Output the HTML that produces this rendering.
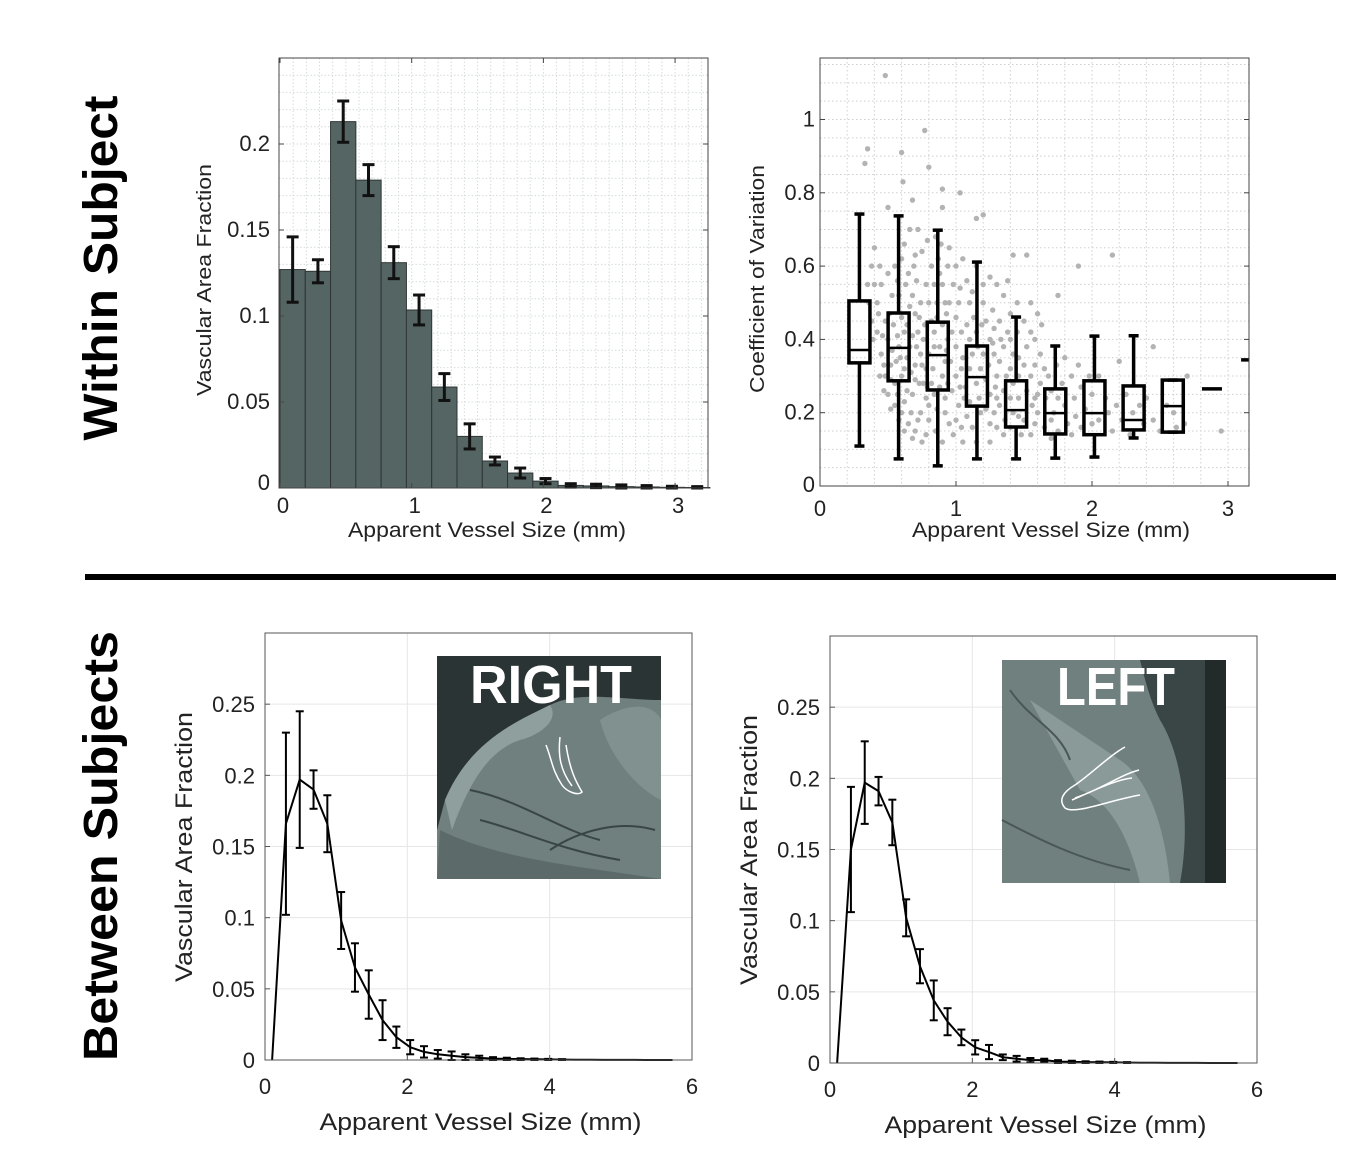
<!DOCTYPE html>
<html><head><meta charset="utf-8">
<style>
html,body{margin:0;padding:0;background:#fff;}
svg{display:block;font-family:"Liberation Sans",Arial,sans-serif;}
</style></head>
<body>
<svg id="fig" width="1366" height="1152" viewBox="0 0 1366 1152" xmlns="http://www.w3.org/2000/svg">
  <text transform="translate(117,268) rotate(-90)" text-anchor="middle" font-size="48" font-weight="bold" textLength="345" lengthAdjust="spacingAndGlyphs">Within Subject</text>
  <text transform="translate(117,846) rotate(-90)" text-anchor="middle" font-size="48" font-weight="bold" textLength="430" lengthAdjust="spacingAndGlyphs">Between Subjects</text>
  <rect x="85" y="574" width="1251" height="6" fill="#000"/>
  <g id="p1"></g>
  <g id="p2"></g>
  <g id="p3"></g>
  <g id="p4"></g>
</svg>
<script>
// ---------- Data ----------
const histCenters = [0.096,0.288,0.48,0.672,0.864,1.056,1.248,1.44,1.632,1.824,2.016,2.208,2.4,2.592,2.784,2.976,3.168];
const histValues = [0.127,0.126,0.213,0.179,0.131,0.1035,0.0587,0.030,0.0157,0.0087,0.004,0.0015,0.0012,0.0008,0.0006,0.0004,0.0003];
const histErrors = [0.019,0.0067,0.012,0.009,0.0093,0.0087,0.0078,0.0073,0.0023,0.0029,0.0015,0.001,0.001,0.001,0.0008,0.0006,0.0005];
const histXTicks = [0,1,2,3];
const histYTicks = [0,0.05,0.1,0.15,0.2];
const histYTickLabels = ['0','0.05','0.1','0.15','0.2'];

const boxCenters = [0.29,0.578,0.866,1.154,1.442,1.73,2.018,2.306,2.594,2.882,3.17];
const boxLow  = [0.109,0.074,0.055,0.074,0.074,0.076,0.079,0.131,0.147,0.265,0.344];
const boxQ1   = [0.336,0.287,0.262,0.218,0.161,0.142,0.140,0.153,0.147,0.265,0.344];
const boxMed  = [0.371,0.377,0.357,0.297,0.207,0.199,0.199,0.180,0.218,0.265,0.344];
const boxQ3   = [0.505,0.472,0.447,0.382,0.287,0.265,0.287,0.273,0.289,0.265,0.344];
const boxHigh = [0.742,0.737,0.698,0.611,0.461,0.382,0.409,0.410,0.289,0.265,0.344];
const cvYTicks = [0,0.2,0.4,0.6,0.8,1];
const cvYTickLabels = ['0','0.2','0.4','0.6','0.8','1'];
const cvXTicks = [0,1,2,3];
const scatterPts = [[0.48,1.12],[0.35,0.92],[0.33,0.88],[0.6,0.91],[0.61,0.83],[0.77,0.97],[0.8,0.87],[1.03,0.8],[0.9,0.81],[1.15,0.73],[1.2,0.74],[2.15,0.63],[1.9,0.6],[1.75,0.52],[2.95,0.15],[1.42,0.63],[1.52,0.63],[0.5,0.76],[0.68,0.78],[0.9,0.76],
[0.4,0.65],[0.45,0.55],[0.42,0.5],[0.48,0.45],[0.5,0.4],[0.45,0.36],[0.52,0.33],[0.48,0.3],[0.55,0.28],[0.5,0.25],[0.55,0.22],[0.6,0.2],[0.65,0.17],[0.7,0.15],[0.75,0.12],[0.55,0.6],[0.62,0.66],[0.65,0.58],[0.68,0.52],[0.7,0.47],[0.72,0.42],[0.66,0.38],[0.7,0.33],[0.73,0.28],[0.68,0.25],[0.78,0.24],[0.74,0.2],[0.8,0.18],[0.85,0.15],[0.82,0.6],[0.78,0.55],[0.75,0.64],[0.72,0.7],[0.8,0.5],[0.82,0.45],[0.76,0.4],[0.8,0.36],[0.78,0.32],[0.82,0.28],[0.8,0.22],[0.85,0.68],[0.95,0.65],[1.0,0.6],[0.98,0.55],[0.95,0.5],[1.0,0.46],[0.97,0.42],[1.0,0.38],[0.96,0.34],[1.0,0.3],[0.97,0.26],[1.02,0.22],[1.0,0.18],[0.98,0.14],[1.05,0.12],[1.08,0.56],[1.1,0.5],[1.08,0.44],[1.1,0.4],[1.05,0.35],[1.1,0.32],[1.07,0.27],[1.1,0.23],[1.08,0.19],[1.12,0.16],[1.2,0.5],[1.22,0.45],[1.25,0.4],[1.2,0.36],[1.24,0.33],[1.22,0.29],[1.25,0.25],[1.22,0.21],[1.25,0.17],[1.3,0.55],[1.35,0.52],[1.32,0.45],[1.38,0.42],[1.35,0.38],[1.32,0.34],[1.37,0.3],[1.35,0.26],[1.32,0.22],[1.36,0.18],[1.35,0.14],[1.45,0.5],[1.5,0.45],[1.55,0.42],[1.52,0.38],[1.5,0.33],[1.55,0.3],[1.52,0.26],[1.56,0.22],[1.5,0.18],[1.55,0.14],[1.62,0.36],[1.65,0.32],[1.62,0.28],[1.66,0.24],[1.6,0.2],[1.65,0.16],[1.7,0.13],[1.8,0.35],[1.78,0.28],[1.8,0.22],[1.82,0.17],[1.85,0.14],[1.9,0.33],[1.92,0.27],[1.95,0.21],[1.92,0.16],[2.05,0.3],[2.1,0.24],[2.05,0.18],[2.15,0.15],[2.2,0.34],[2.25,0.25],[2.3,0.2],[2.28,0.14],[2.4,0.24],[2.45,0.18],[2.5,0.15],[2.55,0.22],[2.62,0.16],[2.7,0.3],[2.45,0.38],[0.6,0.46],[0.58,0.38],[0.62,0.32],[0.88,0.58],[0.9,0.44],[0.88,0.38],[0.9,0.3],[0.92,0.24],[1.15,0.6],[1.15,0.42],[1.15,0.28],[1.42,0.36],[1.42,0.28],[1.42,0.2],[0.35,0.55],[0.38,0.45],[0.58,0.52],[0.62,0.42],[0.74,0.36],[0.86,0.5],[0.92,0.34],[1.04,0.42],[1.18,0.32],[1.28,0.36],[1.28,0.2],[1.46,0.24],[1.6,0.25],[1.72,0.2],[0.64,0.26],[0.56,0.34],
[0.4,0.55],[0.43,0.47],[0.46,0.41],[0.47,0.33],[0.52,0.29],[0.57,0.25],[0.62,0.23],[0.67,0.2],[0.72,0.18],[0.44,0.6],[0.5,0.58],[0.53,0.52],[0.51,0.47],[0.54,0.44],[0.57,0.41],[0.53,0.37],[0.59,0.35],[0.6,0.3],[0.57,0.56],[0.6,0.62],[0.63,0.55],[0.66,0.49],[0.64,0.44],[0.68,0.41],[0.64,0.35],[0.67,0.31],[0.7,0.29],[0.71,0.38],[0.69,0.6],[0.71,0.56],[0.74,0.5],[0.73,0.46],[0.77,0.44],[0.75,0.33],[0.76,0.28],[0.79,0.27],[0.84,0.25],[0.83,0.32],[0.84,0.38],[0.84,0.42],[0.86,0.46],[0.84,0.55],[0.87,0.62],[0.9,0.55],[0.92,0.5],[0.93,0.47],[0.94,0.4],[0.93,0.37],[0.94,0.28],[0.88,0.27],[0.86,0.21],[0.92,0.2],[0.95,0.17],[1.02,0.5],[1.03,0.54],[1.04,0.32],[1.03,0.27],[1.06,0.24],[1.04,0.16],[1.12,0.36],[1.13,0.46],[1.12,0.53],[1.16,0.38],[1.17,0.24],[1.18,0.2],[1.19,0.44],[1.2,0.55],[1.27,0.48],[1.28,0.43],[1.27,0.39],[1.3,0.3],[1.29,0.27],[1.3,0.24],[1.3,0.16],[1.33,0.4],[1.4,0.47],[1.4,0.4],[1.4,0.32],[1.4,0.24],[1.4,0.16],[1.45,0.42],[1.46,0.35],[1.46,0.3],[1.46,0.19],[1.48,0.14],[1.58,0.4],[1.58,0.33],[1.58,0.24],[1.58,0.17],[1.63,0.44],[1.68,0.3],[1.7,0.26],[1.7,0.18],[1.74,0.33],[1.75,0.24],[1.75,0.15],[1.85,0.3],[1.87,0.24],[1.88,0.19],[1.98,0.3],[2.0,0.25],[2.0,0.17],[2.12,0.2],[2.18,0.22],[2.22,0.18],[2.35,0.22],[2.38,0.17],[2.6,0.2],[2.68,0.17],[0.38,0.6],[0.36,0.5],[0.39,0.4],[0.42,0.42],[0.44,0.3],[0.47,0.26],[0.52,0.21],[0.58,0.18],[0.62,0.15],[0.68,0.13],[0.78,0.14],[0.9,0.12],[1.15,0.12],[1.25,0.12],[0.66,0.7],[0.7,0.63],[0.79,0.67],[0.89,0.66],[0.94,0.6],[1.05,0.62],[1.25,0.57],[1.38,0.56],[1.55,0.5],[1.6,0.47]];

const lineX = [0.1,0.294,0.488,0.682,0.876,1.07,1.264,1.458,1.652,1.846,2.04,2.234,2.428,2.622,2.816,3.01,3.204,3.398,3.592,3.786,3.98,4.174,4.368,4.562,4.756,4.95,5.144,5.338,5.532,5.726];
const rightHemValues = [0,0.166,0.197,0.19,0.166,0.098,0.065,0.046,0.028,0.016,0.009,0.0057,0.004,0.003,0.002,0.0015,0.001,0.0008,0.0006,0.0005,0.0004,0.0003,0.0002,0.0002,0.0001,0.0001,0.0001,0,0,0];
const rightHemErrors = [0,0.064,0.048,0.0135,0.02,0.02,0.017,0.017,0.014,0.0075,0.005,0.004,0.003,0.003,0.002,0.0015,0.001,0.0008,0.0006,0.0005,0.0004,0.0003,0,0,0,0,0,0,0,0];
const leftHemValues = [0,0.15,0.197,0.191,0.169,0.102,0.068,0.044,0.029,0.018,0.011,0.0077,0.004,0.003,0.002,0.002,0.001,0.0008,0.0006,0.0005,0.0004,0.0003,0.0002,0.0002,0.0001,0.0001,0.0001,0,0,0];
const leftHemErrors = [0,0.044,0.029,0.01,0.016,0.013,0.012,0.014,0.0095,0.0055,0.005,0.005,0.002,0.002,0.0015,0.001,0.001,0.0008,0.0006,0.0005,0.0004,0.0003,0,0,0,0,0,0,0,0];
const lineXTicks = [0,2,4,6];
const lineYTicks = [0,0.05,0.1,0.15,0.2,0.25];
const lineYTickLabels = ['0','0.05','0.1','0.15','0.2','0.25'];

// ---------- Helpers ----------
const NS='http://www.w3.org/2000/svg';
function mk(parent, tag, attrs){ const e=document.createElementNS(NS,tag); for(const k in attrs) e.setAttribute(k,attrs[k]); parent.appendChild(e); return e; }
function scale(d0,d1,r0,r1){ return v=> r0+(v-d0)/(d1-d0)*(r1-r0); }

// ---------- Panel 1: histogram ----------
(function(){
  const g=document.getElementById('p1');
  const L=279,R=708,T=58,B=488;
  const x=scale(0,3.25,280,708), y=scale(0,0.25,B,T);
  let bg=mk(g,'rect',{x:L,y:T,width:R-L,height:B-T,fill:'#fff'});
   
  for(let v=0.1; v<3.25; v+=0.1){ const ln=mk(g,'line',{x1:x(v),x2:x(v),y1:T,y2:B,stroke:'#d6dcdc','stroke-width':1,'stroke-dasharray':'1.5,2'});   }
  for(let v=0.01; v<0.25; v+=0.01){ const ln=mk(g,'line',{x1:L,x2:R,y1:y(v),y2:y(v),stroke:'#d6dcdc','stroke-width':1,'stroke-dasharray':'1.5,2'});   }
  const bw=0.192;
  histValues.forEach((v,i)=>{
    const c=histCenters[i];
    const r=mk(g,'rect',{x:x(c-bw/2),y:y(v),width:x(c+bw/2)-x(c-bw/2),height:y(0)-y(v),fill:'#556563',stroke:'#2e3535','stroke-width':1});
     
  });
  histValues.forEach((v,i)=>{
    const c=histCenters[i], e=histErrors[i], cx=x(c);
    const eg=mk(g,'g',{stroke:'#111','stroke-width':3});
     
    mk(eg,'line',{x1:cx,x2:cx,y1:y(v+e),y2:y(Math.max(0,v-e))});
    mk(eg,'line',{x1:cx-6,x2:cx+6,y1:y(v+e),y2:y(v+e)});
    mk(eg,'line',{x1:cx-6,x2:cx+6,y1:y(Math.max(0,v-e)),y2:y(Math.max(0,v-e))});
  });
  const ax=mk(g,'rect',{x:L,y:T,width:R-L,height:B-T,fill:'none',stroke:'#444','stroke-width':1});
   
  histXTicks.forEach(t=>{
    mk(g,'line',{x1:x(t),x2:x(t),y1:B,y2:B-5,stroke:'#444'});
    mk(g,'line',{x1:x(t),x2:x(t),y1:T,y2:T+5,stroke:'#444'});
    const tx=mk(g,'text',{x:x(t)+3,y:513,'text-anchor':'middle','font-size':22,fill:'#222'}); tx.textContent=t;
     
  });
  histYTicks.forEach((t,i)=>{
    mk(g,'line',{x1:L,x2:L+5,y1:y(t),y2:y(t),stroke:'#444'});
    mk(g,'line',{x1:R,x2:R-5,y1:y(t),y2:y(t),stroke:'#444'});
    const tx=mk(g,'text',{x:270,y:(t===0?y(t)+2:y(t)+7),'text-anchor':'end','font-size':22,fill:'#222'}); tx.textContent=histYTickLabels[i];
     
  });
  const xl=mk(g,'text',{x:487,y:537,'text-anchor':'middle','font-size':21,fill:'#222',textLength:278,lengthAdjust:'spacingAndGlyphs'}); xl.textContent='Apparent Vessel Size (mm)';
   
  const yl=mk(g,'text',{transform:'translate(211,280) rotate(-90)','text-anchor':'middle','font-size':20,fill:'#222',textLength:232,lengthAdjust:'spacingAndGlyphs'}); yl.textContent='Vascular Area Fraction';
   
})();

// ---------- Panel 2: boxplot ----------
(function(){
  const g=document.getElementById('p2');
  const L=820,R=1249,T=58,B=486;
  const x=scale(0,1,820,956), y=scale(0,1,B,B-366.5);
  for(let v=0.2; v<3.2; v+=0.2){ const ln=mk(g,'line',{x1:x(v),x2:x(v),y1:T,y2:B,stroke:'#cfcfcf','stroke-width':1,'stroke-dasharray':'1.5,2.5'});   }
  for(let v=0.05; v<1.17; v+=0.05){ const ln=mk(g,'line',{x1:L,x2:R,y1:y(v),y2:y(v),stroke:'#cfcfcf','stroke-width':1,'stroke-dasharray':'1.5,2.5'});   }
  const sg=mk(g,'g',{fill:'#b3b3b3'});
   
  scatterPts.forEach(p=>{ const c=mk(sg,'circle',{cx:x(p[0]),cy:y(p[1]),r:2.7});
      });
  const clip=mk(g,'clipPath',{id:'cvclip'}); mk(clip,'rect',{x:L,y:T,width:R-L,height:B-T});
  const bgp=mk(g,'g',{stroke:'#000','stroke-width':3.5,fill:'none','clip-path':'url(#cvclip)'});
  boxCenters.forEach((c,i)=>{
    const cx=x(c), hw=10.5, bx=mk(bgp,'g',{});
     
    if(boxHigh[i]-boxLow[i]<0.001){ mk(bx,'line',{x1:cx-10,x2:cx+10,y1:y(boxMed[i]),y2:y(boxMed[i])}); return; }
    mk(bx,'line',{x1:cx,x2:cx,y1:y(boxHigh[i]),y2:y(boxQ3[i])});
    mk(bx,'line',{x1:cx,x2:cx,y1:y(boxQ1[i]),y2:y(boxLow[i])});
    mk(bx,'line',{x1:cx-5,x2:cx+5,y1:y(boxHigh[i]),y2:y(boxHigh[i])});
    mk(bx,'line',{x1:cx-5,x2:cx+5,y1:y(boxLow[i]),y2:y(boxLow[i])});
    mk(bx,'rect',{x:cx-hw,y:y(boxQ3[i]),width:2*hw,height:y(boxQ1[i])-y(boxQ3[i])});
    mk(bx,'line',{x1:cx-hw,x2:cx+hw,y1:y(boxMed[i]),y2:y(boxMed[i]),'stroke-width':2.5});
  });
  const ax=mk(g,'rect',{x:L,y:T,width:R-L,height:B-T,fill:'none',stroke:'#444','stroke-width':1});
   
  cvXTicks.forEach(t=>{
    mk(g,'line',{x1:x(t),x2:x(t),y1:B,y2:B-5,stroke:'#444'});
    const tx=mk(g,'text',{x:x(t),y:516,'text-anchor':'middle','font-size':22,fill:'#222'}); tx.textContent=t;
     
  });
  cvYTicks.forEach((t,i)=>{
    mk(g,'line',{x1:L,x2:L+5,y1:y(t),y2:y(t),stroke:'#444'});
    mk(g,'line',{x1:R,x2:R-5,y1:y(t),y2:y(t),stroke:'#444'});
    const tx=mk(g,'text',{x:815,y:(t===0?y(t)+6:y(t)+7),'text-anchor':'end','font-size':22,fill:'#222'}); tx.textContent=cvYTickLabels[i];
     
  });
  const xl=mk(g,'text',{x:1051,y:537,'text-anchor':'middle','font-size':21,fill:'#222',textLength:278,lengthAdjust:'spacingAndGlyphs'}); xl.textContent='Apparent Vessel Size (mm)';
   
  const yl=mk(g,'text',{transform:'translate(764,279) rotate(-90)','text-anchor':'middle','font-size':20,fill:'#222',textLength:228,lengthAdjust:'spacingAndGlyphs'}); yl.textContent='Coefficient of Variation';
   
})();

// ---------- Panels 3 & 4: line plots ----------
function linePanel(id, L, T, vals, errs, inset){
  const g=document.getElementById(id);
  const R=L+427, B=T+427;
  const x=scale(0,6,L,R), y=scale(0,0.3,B,T);
  lineXTicks.forEach(t=>{ if(t>0&&t<6){ const ln=mk(g,'line',{x1:x(t),x2:x(t),y1:T,y2:B,stroke:'#e6e6e6','stroke-width':1});   }});
  lineYTicks.forEach(t=>{ if(t>0){ const ln=mk(g,'line',{x1:L,x2:R,y1:y(t),y2:y(t),stroke:'#e6e6e6','stroke-width':1});   }});
  inset(g);
  const pts=vals.map((v,i)=>x(lineX[i])+','+y(v)).join(' ');
  const pl=mk(g,'polyline',{points:pts,fill:'none',stroke:'#000','stroke-width':2,'stroke-linejoin':'round'});
   
  vals.forEach((v,i)=>{
    const e=errs[i]; if(e<=0) return;
    const cx=x(lineX[i]), eg=mk(g,'g',{stroke:'#000','stroke-width':2});
     
    const lo=Math.max(0,v-e);
    mk(eg,'line',{x1:cx,x2:cx,y1:y(v+e),y2:y(lo)});
    mk(eg,'line',{x1:cx-4,x2:cx+4,y1:y(v+e),y2:y(v+e)});
    mk(eg,'line',{x1:cx-4,x2:cx+4,y1:y(lo),y2:y(lo)});
  });
  const ax=mk(g,'rect',{x:L,y:T,width:R-L,height:B-T,fill:'none',stroke:'#555','stroke-width':1});
   
  lineXTicks.forEach(t=>{
    mk(g,'line',{x1:x(t),x2:x(t),y1:B,y2:B-5,stroke:'#555'});
    const tx=mk(g,'text',{x:x(t),y:B+34,'text-anchor':'middle','font-size':22,fill:'#222'}); tx.textContent=t;
     
  });
  lineYTicks.forEach((t,i)=>{
    mk(g,'line',{x1:L,x2:L+5,y1:y(t),y2:y(t),stroke:'#555'});
    const tx=mk(g,'text',{x:L-10,y:y(t)+8,'text-anchor':'end','font-size':22,fill:'#222'}); tx.textContent=lineYTickLabels[i];
     
  });
  const xl=mk(g,'text',{x:(L+R)/2+2,y:B+70,'text-anchor':'middle','font-size':24,fill:'#222',textLength:322,lengthAdjust:'spacingAndGlyphs'}); xl.textContent='Apparent Vessel Size (mm)';
   
  const yl=mk(g,'text',{transform:'translate('+(L-73)+','+(T+214)+') rotate(-90)','text-anchor':'middle','font-size':24,fill:'#222',textLength:270,lengthAdjust:'spacingAndGlyphs'}); yl.textContent='Vascular Area Fraction';
   
}

function rightInset(g){
  const ig=mk(g,'g',{});  
  mk(ig,'rect',{x:437,y:656,width:224,height:223,fill:'#6f807e'});
  mk(ig,'path',{d:'M437,656 H661 V700 C620,700 580,690 550,705 C520,720 470,740 445,800 L437,830 Z',fill:'#2b3434'});
  mk(ig,'path',{d:'M445,800 C470,740 520,720 550,705 C560,720 540,735 520,740 C490,750 470,780 452,830 Z',fill:'#8f9f9d'});
  mk(ig,'path',{d:'M600,720 C630,700 655,705 661,720 V800 C640,790 610,760 600,720 Z',fill:'#80918f'});
  mk(ig,'path',{d:'M440,830 C480,850 530,860 600,870 L661,879 H437 Z',fill:'#5c6b6a'});
  mk(ig,'path',{d:'M470,790 C520,800 560,830 600,840 M480,820 C520,830 560,850 620,860 M550,850 C580,830 620,820 655,830',stroke:'#3a4646','stroke-width':2,fill:'none'});
  mk(ig,'path',{d:'M546,745 C552,760 552,770 562,785 C567,792 578,796 582,792 C575,780 570,770 566,745 M560,737 C558,755 560,770 572,786',stroke:'#fff','stroke-width':1.5,fill:'none'});
  const t=mk(ig,'text',{x:551,y:703,'text-anchor':'middle','font-size':54,'font-weight':'bold',fill:'#fff',textLength:162,lengthAdjust:'spacingAndGlyphs'}); t.textContent='RIGHT';
   
}
function leftInset(g){
  const ig=mk(g,'g',{});  
  mk(ig,'rect',{x:1002,y:660,width:224,height:223,fill:'#6f807e'});
  mk(ig,'path',{d:'M1140,660 H1205 V883 H1180 C1190,830 1185,760 1160,720 C1150,700 1145,680 1140,660 Z',fill:'#3a4546'});
  mk(ig,'rect',{x:1205,y:660,width:21,height:223,fill:'#222a2a'});
  mk(ig,'path',{d:'M1030,700 C1060,720 1090,740 1120,760 C1150,780 1165,830 1170,883 H1140 C1130,840 1110,800 1080,790 Z',fill:'#8a9a98'});
  mk(ig,'path',{d:'M1002,820 C1040,840 1080,860 1130,870 M1010,690 C1030,720 1060,730 1070,760',stroke:'#4a5757','stroke-width':2,fill:'none'});
  mk(ig,'path',{d:'M1125,747 C1110,755 1090,775 1075,785 C1063,792 1058,800 1065,808 C1075,815 1110,800 1140,795 M1139,770 C1120,775 1100,790 1075,798 M1072,800 C1095,790 1115,780 1132,778',stroke:'#fff','stroke-width':1.5,fill:'none'});
  const t=mk(ig,'text',{x:1116,y:705,'text-anchor':'middle','font-size':54,'font-weight':'bold',fill:'#fff',textLength:118,lengthAdjust:'spacingAndGlyphs'}); t.textContent='LEFT';
   
}
linePanel('p3',265,633,rightHemValues,rightHemErrors,rightInset);
linePanel('p4',830,636,leftHemValues,leftHemErrors,leftInset);
</script>
</body></html>
